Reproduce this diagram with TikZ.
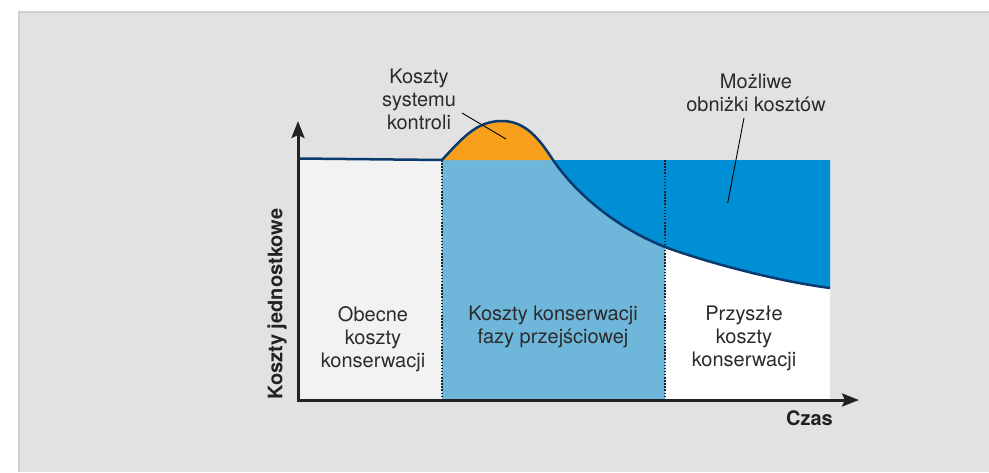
\documentclass[tikz,border=0pt]{standalone}
\usepackage{fontspec}
\setmainfont{TeX Gyre Heros}
\usetikzlibrary{arrows.meta}
\definecolor{bg}{HTML}{E2E2E2}
\definecolor{bgline}{HTML}{D0D0D0}
\definecolor{leftfill}{HTML}{F2F2F2}
\definecolor{midfill}{HTML}{6FB7DA}
\definecolor{darkfill}{HTML}{008FD5}
\definecolor{orangefill}{HTML}{F8A01B}
\definecolor{curvecol}{HTML}{0B3A6E}
\definecolor{axiscol}{HTML}{222222}
\definecolor{txt}{HTML}{2B2B2B}
\begin{document}
\begin{tikzpicture}[x=1pt,y=-1pt,
  lbl/.style={font=\fontsize{20}{23}\selectfont, text=txt, align=center, inner sep=0pt},
  axlbl/.style={font=\fontsize{20}{23}\selectfont\bfseries, text=axiscol, inner sep=0pt},
  leader/.style={draw=black, line width=0.9pt},
  divider/.style={draw=axiscol, line width=1.8pt, dash pattern=on 1.5pt off 1.6pt},
  costcurve/.style={draw=curvecol, line width=2.5pt, line join=round},
  axisline/.style={draw=axiscol, line width=3pt, line join=miter,
    {Stealth[length=17pt,width=13pt,inset=3pt]}-{Stealth[length=17pt,width=13pt,inset=3pt]}}]
\useasboundingbox (0,0) rectangle (989,472);
% panel
\fill[bg] (18,11) rectangle (989,472);
\draw[bgline, line width=1.5pt] (18.75,472) -- (18.75,11.75) -- (989,11.75);
% key points
\coordinate (O) at (298,400);
\coordinate (Ytip) at (298,121);
\coordinate (Xtip) at (859,400);
\coordinate (L0) at (298,158.5);
\coordinate (P1) at (442,160);
\coordinate (Pk) at (502,121);
\coordinate (P2) at (553,160);
\coordinate (P3) at (665,247);
\coordinate (P4) at (830,288);
% regions
\fill[leftfill] (298,159) rectangle (442,400);
\fill[midfill] (442,160) rectangle (665,400);
\fill[white] (665,160) rectangle (830,400);
\fill[orangefill] (P1) .. controls (465,135) and (478,121) .. (Pk)
  .. controls (526,121) and (540,140) .. (P2) -- cycle;
\fill[darkfill] (P2) .. controls (572,188) and (610,225) .. (P3)
  .. controls (700,260) and (770,280) .. (P4) -- (830,160) -- cycle;
% dividers
\draw[divider] (442,160) -- (442,400);
\draw[divider] (665,160) -- (665,400);
% cost curve
\draw[costcurve] (L0) -- (P1) .. controls (465,135) and (478,121) .. (Pk)
  .. controls (526,121) and (540,140) .. (P2)
  .. controls (572,188) and (610,225) .. (P3)
  .. controls (700,260) and (770,280) .. (P4);
% axes
\draw[axisline] (Ytip) -- (O) -- (Xtip);
% labels
\node[lbl] (ctrl) at (419,99) {Koszty\\systemu\\kontroli};
\node[lbl] (save) at (756,93) {Możliwe\\obniżki kosztów};
\node[lbl] (now) at (373,339) {Obecne\\koszty\\konserwacji};
\node[lbl] (trans) at (553,327) {Koszty konserwacji\\fazy przejściowej};
\node[lbl] (future) at (744,338) {Przyszłe\\koszty\\konserwacji};
\node[axlbl, rotate=90] (ylab) at (277,304) {Koszty jednostkowe};
\node[axlbl] (xlab) at (809.5,418.5) {Czas};
% leaders
\coordinate (ctrlA) at (462,113);
\coordinate (ctrlB) at (506,139);
\draw[leader] (ctrlA) -- (ctrlB);
\coordinate (saveA) at (744,118);
\coordinate (saveB) at (727.7,203);
\draw[leader] (saveA) -- (saveB);
\end{tikzpicture}
\end{document}
